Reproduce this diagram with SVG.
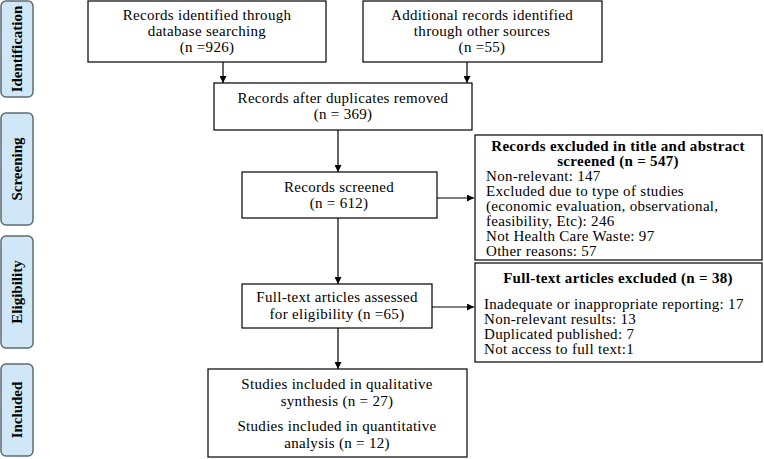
<svg xmlns="http://www.w3.org/2000/svg" width="764" height="459" viewBox="0 0 764 459">
<defs>
<marker id="ah" viewBox="0 0 10 10" refX="10" refY="5" markerWidth="7" markerHeight="7" markerUnits="userSpaceOnUse" orient="auto">
<path d="M0,0 L10,5 L0,10 z" fill="#000"/>
</marker>
</defs>
<style>
text{font-family:"Liberation Serif","Times New Roman",serif;font-size:15px;letter-spacing:0.3px;fill:#000}
.c{text-anchor:middle}
.b{font-weight:bold}
.box{fill:#fff;stroke:#000;stroke-width:1.2}
.lab{fill:#cfe7f7;stroke:#5e6b73;stroke-width:1.5}
.lt{font-weight:bold;font-size:15px;letter-spacing:0;text-anchor:middle}
.con line{stroke:#000;stroke-width:1.2;marker-end:url(#ah)}
</style>
<rect width="764" height="459" fill="#fff"/>
<g id="stage-identification"><rect class="lab" x="1" y="1" width="32" height="96" rx="5"/><text class="lt" transform="translate(22,49) rotate(-90)">Identification</text></g>
<g id="stage-screening"><rect class="lab" x="1" y="113" width="32" height="112" rx="5"/><text class="lt" transform="translate(22,169) rotate(-90)">Screening</text></g>
<g id="stage-eligibility"><rect class="lab" x="1" y="236" width="32" height="112" rx="5"/><text class="lt" transform="translate(22,292) rotate(-90)">Eligibility</text></g>
<g id="stage-included"><rect class="lab" x="1" y="364" width="32" height="92" rx="5"/><text class="lt" transform="translate(22,410) rotate(-90)">Included</text></g>

<g id="db-records"><rect class="box" x="88" y="1" width="238" height="61"/>
<text class="c" x="207" y="20">Records identified through</text>
<text class="c" x="207" y="36">database searching</text>
<text class="c" x="207" y="52">(n =926)</text></g>
<g id="other-records"><rect class="box" x="363" y="1" width="239" height="61"/>
<text class="c" x="482" y="20">Additional records identified</text>
<text class="c" x="482" y="36">through other sources</text>
<text class="c" x="482" y="52">(n =55)</text></g>
<g id="dedup"><rect class="box" x="214" y="83" width="258" height="47"/>
<text class="c" x="343" y="103">Records after duplicates removed</text>
<text class="c" x="343" y="119">(n = 369)</text></g>
<g id="screened"><rect class="box" x="242" y="172" width="195" height="46"/>
<text class="c" x="339" y="192">Records screened</text>
<text class="c" x="339" y="208">(n = 612)</text></g>
<g id="excluded-screen"><rect class="box" x="475" y="135" width="287" height="125"/>
<text class="c b" x="618" y="151">Records excluded in title and abstract</text>
<text class="c b" x="618" y="166">screened (n = 547)</text>
<text x="486" y="181">Non-relevant: 147</text>
<text x="486" y="196">Excluded due to type of studies</text>
<text x="486" y="211">(economic evaluation, observational,</text>
<text x="486" y="226">feasibility, Etc): 246</text>
<text x="486" y="241">Not Health Care Waste: 97</text>
<text x="486" y="256">Other reasons: 57</text></g>
<g id="fulltext"><rect class="box" x="242" y="284" width="190" height="44"/>
<text class="c" x="337" y="302">Full-text articles assessed</text>
<text class="c" x="337" y="319">for eligibility (n =65)</text></g>
<g id="excluded-fulltext"><rect class="box" x="475" y="263" width="287" height="99"/>
<text class="c b" x="618" y="283">Full-text articles excluded (n = 38)</text>
<text x="484" y="309">Inadequate or inappropriate reporting: 17</text>
<text x="484" y="324">Non-relevant results: 13</text>
<text x="484" y="339">Duplicated published: 7</text>
<text x="484" y="354">Not access to full text:1</text></g>
<g id="included"><rect class="box" x="208" y="369" width="259" height="88"/>
<text class="c" x="337" y="389">Studies included in qualitative</text>
<text class="c" x="337" y="406">synthesis (n = 27)</text>
<text class="c" x="337" y="431">Studies included in quantitative</text>
<text class="c" x="337" y="448">analysis (n = 12)</text></g>

<g id="connectors" class="con">
<line x1="223" y1="62" x2="223" y2="83"/>
<line x1="467" y1="62" x2="467" y2="83"/>
<line x1="338" y1="130" x2="338" y2="172"/>
<line x1="437" y1="198" x2="474" y2="198"/>
<line x1="338" y1="218" x2="338" y2="284"/>
<line x1="432" y1="307" x2="474" y2="307"/>
<line x1="338" y1="328" x2="338" y2="369"/>
</g>
</svg>
